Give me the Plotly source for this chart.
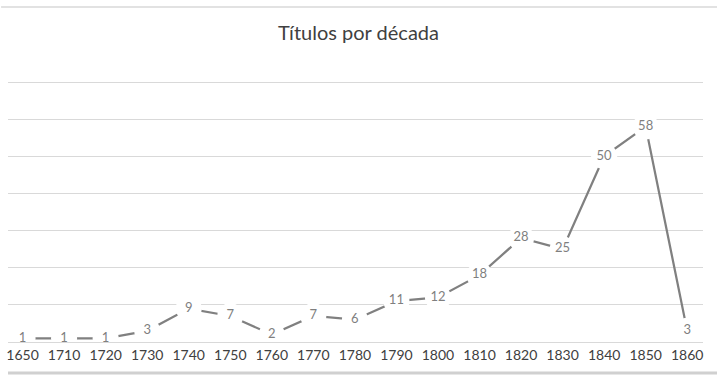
import plotly.graph_objects as go

decades = ["1650", "1710", "1720", "1730", "1740", "1750", "1760", "1770",
           "1780", "1790", "1800", "1810", "1820", "1830", "1840", "1850", "1860"]
titles = [1, 1, 1, 3, 9, 7, 2, 7, 6, 11, 12, 18, 28, 25, 50, 58, 3]

idx = list(range(len(decades)))
FONT = "Lato, Open Sans, sans-serif"

fig = go.Figure()
fig.add_trace(go.Scatter(
    x=idx, y=titles,
    mode="lines+markers+text",
    line=dict(color="#808080", width=2.25),
    marker=dict(color="white", size=26, line=dict(width=0)),
    text=[str(v) for v in titles],
    textposition="middle center",
    textfont=dict(family=FONT, size=13, color="#7f7f7f"),
    cliponaxis=False,
    showlegend=False,
    hoverinfo="skip",
))

n = len(decades)
H = 264
fig.update_layout(
    width=717, height=378,
    margin=dict(l=6, r=14, t=78, b=36),
    paper_bgcolor="white", plot_bgcolor="white",
    title=dict(text="Títulos por década", x=0.5, xanchor="center",
               y=1 - 33 / 378, yanchor="middle",
               font=dict(family=FONT, size=20, color="#404040")),
    xaxis=dict(range=[-0.35, n - 1 + 0.38], tickvals=idx, ticktext=decades,
               showgrid=False, zeroline=False, showline=True, linecolor="#d9d9d9",
               linewidth=1, ticks="",
               tickfont=dict(family=FONT, size=14, color="#404040")),
    yaxis=dict(range=[0, 71.08], tickvals=[10, 20, 30, 40, 50, 60, 70],
               showticklabels=False, showgrid=True,
               gridcolor="#d9d9d9", gridwidth=1, zeroline=False),
    shapes=[
        dict(type="line", xref="paper", yref="paper", x0=-0.01, x1=1.03,
             y0=(342 - 7) / H, y1=(342 - 7) / H,
             line=dict(color="#d9d9d9", width=1.5)),
        dict(type="line", xref="paper", yref="paper", x0=0, x1=1.03,
             y0=(342 - 373) / H, y1=(342 - 373) / H,
             line=dict(color="#d0d0d0", width=3)),
    ],
)

fig.write_html("out.html", config={"displayModeBar": False},
               post_script="document.body.style.margin='0';")
